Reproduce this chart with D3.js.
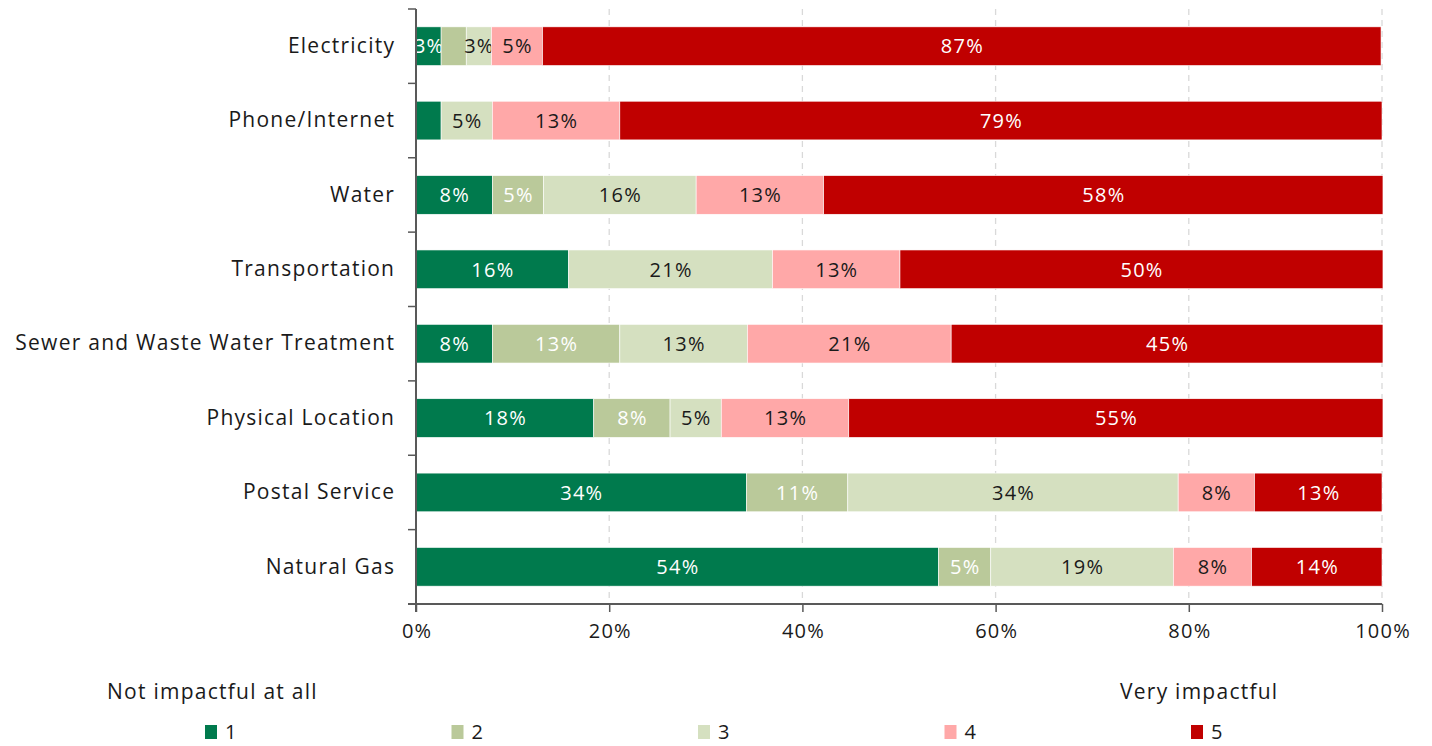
<!DOCTYPE html>
<html><head><meta charset="utf-8">
<script src="https://cdn.jsdelivr.net/npm/d3@7"></script>
<style>
body{margin:0;background:#fff;}
svg text{font-family:"Open Sans","Noto Sans",sans-serif;letter-spacing:1.25px;}
</style></head>
<body><svg id="c" width="1432" height="746"></svg>
<script>
const categories = ["Electricity","Phone/Internet","Water","Transportation","Sewer and Waste Water Treatment","Physical Location","Postal Service","Natural Gas"];
const seriesNames = ["1","2","3","4","5"];
const s1 = [2.6, 2.6, 7.9, 15.8, 7.9, 18.4, 34.2, 54.1];
const s2 = [2.6, 0, 5.3, 0, 13.2, 7.9, 10.5, 5.4];
const s3 = [2.6, 5.3, 15.8, 21.1, 13.2, 5.3, 34.2, 18.9];
const s4 = [5.3, 13.2, 13.2, 13.2, 21.1, 13.2, 7.9, 8.1];
const s5 = [86.8, 78.9, 57.9, 50.0, 44.7, 55.3, 13.2, 13.5];
// labels shown on the chart ("" = no label)
const l1 = ["3%","","8%","16%","8%","18%","34%","54%"];
const l2 = ["","","5%","","13%","8%","11%","5%"];
const l3 = ["3%","5%","16%","21%","13%","5%","34%","19%"];
const l4 = ["5%","13%","13%","13%","21%","13%","8%","8%"];
const l5 = ["87%","79%","58%","50%","45%","55%","13%","14%"];
const xTicks = [0,20,40,60,80,100];
const legendLeft = "Not impactful at all";
const legendRight = "Very impactful";

const colors = ["#007A4D","#BAC99A","#D5E0C0","#FFA8A8","#C00000"];
const labelColors = ["#fff","#fff","#1a1a1a","#1a1a1a","#fff"];
const seriesVals = [s1,s2,s3,s4,s5];
const seriesLabels = [l1,l2,l3,l4,l5];
const FONT = "'Open Sans', sans-serif";

const svg = d3.select("#c");
const x = d3.scaleLinear().domain([0,100]).range([416,1382]);
const y = d3.scaleBand().domain(categories).range([9,604]).paddingInner(0.48).paddingOuter(0.24);

// grid
svg.append("g").selectAll("line").data(xTicks.slice(1)).join("line")
  .attr("x1",d=>x(d)).attr("x2",d=>x(d)).attr("y1",9).attr("y2",604)
  .attr("stroke","#d9d9d9").attr("stroke-width",1.3).attr("stroke-dasharray","6,5");

// stacks
const rows = categories.map((c,i)=>{const o={cat:c}; seriesNames.forEach((s,j)=>o[s]=seriesVals[j][i]); return o;});
const stack = d3.stack().keys(seriesNames)(rows);
stack.forEach((layer,j)=>{
  const g = svg.append("g");
  g.selectAll("rect").data(layer).join("rect")
    .attr("x",d=>x(d[0])).attr("width",d=>Math.max(0,x(d[1])-x(d[0])))
    .attr("y",d=>y(d.data.cat)).attr("height",y.bandwidth())
    .attr("fill",colors[j]).attr("stroke","#fff").attr("stroke-width",0.6);
  g.selectAll("text").data(layer).join("text")
    .attr("x",d=>(x(d[0])+x(d[1]))/2+0.6).attr("y",d=>y(d.data.cat)+y.bandwidth()/2)
    .attr("dy","0.36em").attr("text-anchor","middle")
    .attr("font-size",20).attr("fill",labelColors[j])
    .text((d,i)=>seriesLabels[j][i]);
});

// x axis
const xa = svg.append("g").attr("transform","translate(0,604)")
  .call(d3.axisBottom(x).tickValues(xTicks).tickFormat(d=>d+"%").tickSize(8).tickPadding(12));
xa.select(".domain").attr("stroke","#595959").attr("stroke-width",2).attr("d","M408,0H1382");
xa.selectAll(".tick line").attr("stroke","#595959").attr("stroke-width",1.5);
xa.selectAll("text").attr("font-size",20).attr("fill","#1a1a1a").attr("font-family",FONT).attr("dx","0.6");

// y axis
const ya = svg.append("g").attr("transform","translate(416,0)")
  .call(d3.axisLeft(y).tickSize(0).tickPadding(22));
ya.select(".domain").attr("stroke","#595959").attr("stroke-width",2).attr("d","M0,9V612");
ya.selectAll("text").attr("font-size",21).attr("fill","#1a1a1a").attr("font-family",FONT).attr("dx","1.2");
const bounds = d3.range(categories.length+1).map(i=>9+i*(595/categories.length));
svg.append("g").selectAll("line").data(bounds.slice(0,-1)).join("line")
  .attr("x1",408).attr("x2",416).attr("y1",d=>d).attr("y2",d=>d)
  .attr("stroke","#595959").attr("stroke-width",1.5);

// legend
svg.append("text").attr("x",107).attr("y",699).attr("font-size",21).attr("fill","#1a1a1a").text(legendLeft);
svg.append("text").attr("x",1120).attr("y",699).attr("font-size",21).attr("fill","#1a1a1a").text(legendRight);
const lg = svg.append("g").selectAll("g").data(seriesNames).join("g")
  .attr("transform",(d,i)=>`translate(${205+i*246.5},725)`);
lg.append("rect").attr("width",12).attr("height",14).attr("fill",(d,i)=>colors[i]);
lg.append("text").attr("x",20).attr("y",7).attr("dy","0.36em").attr("font-size",20).attr("fill","#1a1a1a").text(d=>d);
</script></body></html>
